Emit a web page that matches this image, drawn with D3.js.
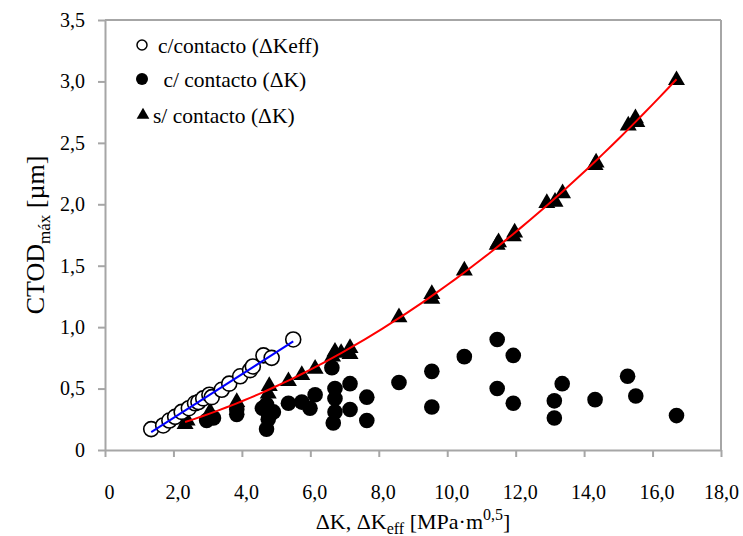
<!DOCTYPE html>
<html>
<head>
<meta charset="utf-8">
<script src="https://cdn.jsdelivr.net/npm/d3@7"></script>
<style>
  body { margin: 0; background: #fff; }
  svg text { font-family: "Liberation Serif", "Times New Roman", serif; }
</style>
</head>
<body>
<div id="chart"></div>
<script>
// c/contacto (ΔKeff) - open circles
const keffX = [1.35, 1.70, 1.88, 2.05, 2.24, 2.45, 2.63, 2.73, 2.87, 3.05, 3.12, 3.41, 3.63, 3.95, 4.24, 4.32, 4.63, 4.87, 5.50];
const keffY = [0.17, 0.20, 0.24, 0.27, 0.31, 0.34, 0.38, 0.39, 0.42, 0.45, 0.43, 0.49, 0.54, 0.60, 0.65, 0.68, 0.77, 0.75, 0.90];

// c/ contacto (ΔK) - filled circles
const comX = [2.97, 3.17, 3.85, 3.85, 4.60, 4.72, 4.77, 4.77, 4.72, 4.92, 5.36, 5.75, 5.99, 6.14, 6.63, 6.72, 6.72, 6.72, 6.67, 7.16, 7.16, 7.65, 7.65, 8.59, 9.55, 9.55, 10.50, 11.46, 11.93, 11.46, 11.93, 13.13, 13.13, 13.36, 14.32, 15.27, 15.51, 16.70];
const comY = [0.24, 0.26, 0.29, 0.33, 0.34, 0.37, 0.30, 0.25, 0.17, 0.31, 0.38, 0.39, 0.34, 0.45, 0.67, 0.50, 0.42, 0.31, 0.22, 0.54, 0.33, 0.43, 0.24, 0.55, 0.64, 0.35, 0.76, 0.90, 0.77, 0.50, 0.38, 0.40, 0.26, 0.54, 0.41, 0.60, 0.44, 0.28];

// s/ contacto (ΔK) - triangles
const semX = [2.34, 2.40, 3.07, 3.85, 4.77, 4.80, 5.36, 5.75, 6.14, 6.65, 6.72, 6.90, 7.16, 7.16, 8.59, 9.55, 9.55, 10.50, 11.46, 11.50, 11.93, 11.97, 12.91, 13.15, 13.37, 14.32, 14.35, 15.29, 15.54, 15.50, 16.70];
const semY = [0.21, 0.24, 0.31, 0.39, 0.46, 0.52, 0.56, 0.61, 0.66, 0.76, 0.80, 0.79, 0.78, 0.83, 1.08, 1.23, 1.27, 1.46, 1.67, 1.69, 1.74, 1.77, 2.01, 2.02, 2.09, 2.32, 2.34, 2.64, 2.67, 2.70, 3.01];

const xTicks = [0, 2, 4, 6, 8, 10, 12, 14, 16, 18];
const yTicks = [0, 0.5, 1, 1.5, 2, 2.5, 3, 3.5];

const legendLabels = ["c/contacto (\u0394Keff)", " c/ contacto (\u0394K)", "s/ contacto (\u0394K)"];

const W = 743, H = 536;
const margin = {left: 105, right: 22, top: 20, bottom: 86};
const axisColor = "#a6a6a6";
const serif = "Liberation Serif, Times New Roman, serif";

const svg = d3.select("#chart").append("svg")
    .attr("width", W)
    .attr("height", H)
    .attr("font-family", serif);

const x = d3.scaleLinear().domain([0, 18]).range([margin.left, W - margin.right]);
const y = d3.scaleLinear().domain([0, 3.5]).range([H - margin.bottom, margin.top]);

const fmt = v => v === 0 ? "0" : d3.format(".1f")(v).replace(".", ",");

// frame (top + right)
svg.append("line")
    .attr("x1", x(0)).attr("x2", x(18)).attr("y1", y(3.5)).attr("y2", y(3.5))
    .attr("stroke", axisColor).attr("stroke-width", 2);
svg.append("line")
    .attr("x1", x(18)).attr("x2", x(18)).attr("y1", y(3.5)).attr("y2", y(0))
    .attr("stroke", axisColor).attr("stroke-width", 2);

const xAxis = svg.append("g")
    .attr("transform", `translate(0,${y(0)})`)
    .call(d3.axisBottom(x).tickValues(xTicks).tickFormat(fmt).tickSize(7).tickSizeOuter(0).tickPadding(28));
const yAxis = svg.append("g")
    .attr("transform", `translate(${x(0)},0)`)
    .call(d3.axisLeft(y).tickValues(yTicks).tickFormat(fmt).tickSize(7).tickSizeOuter(0).tickPadding(13));

[xAxis, yAxis].forEach(a => {
    a.attr("font-family", serif).attr("font-size", 20);
    a.select(".domain").attr("stroke", axisColor).attr("stroke-width", 2);
    a.selectAll(".tick line").attr("stroke", axisColor).attr("stroke-width", 2);
    a.selectAll(".tick text").attr("fill", "#000");
});
// small nudge like the original (labels sit a bit right of their ticks)
xAxis.selectAll(".tick text").attr("dx", d => d === 18 ? 0 : 4);

// filled circles
const comData = comX.map((d, i) => ({x: d, y: comY[i]}));
svg.append("g").selectAll("circle").data(comData).join("circle")
    .attr("cx", d => x(d.x)).attr("cy", d => y(d.y))
    .attr("r", 7.8).attr("fill", "#000");

// triangles
const semData = semX.map((d, i) => ({x: d, y: semY[i]}));
const tri = d3.symbol().type(d3.symbolTriangle).size(125);
svg.append("g").selectAll("path").data(semData).join("path")
    .attr("d", tri)
    .attr("transform", d => `translate(${x(d.x)},${y(d.y)})`)
    .attr("fill", "#000");

// open circles
const keffData = keffX.map((d, i) => ({x: d, y: keffY[i]}));
svg.append("g").selectAll("circle").data(keffData).join("circle")
    .attr("cx", d => x(d.x)).attr("cy", d => y(d.y))
    .attr("r", 7.5).attr("fill", "#fff").attr("stroke", "#000").attr("stroke-width", 1.6);

// trend lines (least squares from the data)
function polyFit(xs, ys, deg) {
    const n = deg + 1;
    const A = Array.from({length: n}, () => new Array(n + 1).fill(0));
    xs.forEach((xv, k) => {
        for (let i = 0; i < n; i++) {
            for (let j = 0; j < n; j++) A[i][j] += Math.pow(xv, i + j);
            A[i][n] += ys[k] * Math.pow(xv, i);
        }
    });
    for (let i = 0; i < n; i++) {
        let p = i;
        for (let r = i + 1; r < n; r++) if (Math.abs(A[r][i]) > Math.abs(A[p][i])) p = r;
        [A[i], A[p]] = [A[p], A[i]];
        for (let r = 0; r < n; r++) {
            if (r === i) continue;
            const f = A[r][i] / A[i][i];
            for (let c = i; c <= n; c++) A[r][c] -= f * A[i][c];
        }
    }
    return A.map((row, i) => row[n] / row[i]);
}
const evalPoly = (c, v) => c.reduce((s, ci, i) => s + ci * Math.pow(v, i), 0);

const line = d3.line().x(d => x(d[0])).y(d => y(d[1]));

const redC = polyFit(semX, semY, 2);
const [sx0, sx1] = d3.extent(semX);
const redPts = d3.range(0, 61).map(i => {
    const v = sx0 + (sx1 - sx0) * i / 60;
    return [v, evalPoly(redC, v)];
});
svg.append("path").attr("d", line(redPts))
    .attr("fill", "none").attr("stroke", "#ff0000").attr("stroke-width", 2);

const blueC = polyFit(keffX, keffY, 1);
const [bx0, bx1] = d3.extent(keffX);
svg.append("path").attr("d", line([[bx0, evalPoly(blueC, bx0)], [bx1, evalPoly(blueC, bx1)]]))
    .attr("fill", "none").attr("stroke", "#0000ff").attr("stroke-width", 2);

// legend
const leg = svg.append("g").attr("font-size", 21.5);
const rowsY = [45, 79, 115];
leg.append("circle").attr("cx", 142).attr("cy", rowsY[0]).attr("r", 5)
    .attr("fill", "#fff").attr("stroke", "#000").attr("stroke-width", 1.5);
leg.append("circle").attr("cx", 142).attr("cy", rowsY[1]).attr("r", 6).attr("fill", "#000");
leg.append("path").attr("d", d3.symbol().type(d3.symbolTriangle).size(70))
    .attr("transform", `translate(143,${rowsY[2]})`).attr("fill", "#000");
leg.selectAll("text").data(legendLabels).join("text")
    .attr("x", (d, i) => i === 2 ? 153 : 158)
    .attr("y", (d, i) => rowsY[i])
    .attr("dy", "0.35em")
    .attr("xml:space", "preserve")
    .style("white-space", "pre")
    .text(d => d);

// axis titles
const xt = svg.append("text")
    .attr("x", (x(0) + x(18)) / 2)
    .attr("y", 529)
    .attr("text-anchor", "middle")
    .attr("font-size", 22);
xt.append("tspan").text("\u0394K, \u0394K");
xt.append("tspan").attr("dy", 5).attr("font-size", 16).text("eff");
xt.append("tspan").attr("dy", -5).text(" [MPa\u00b7m");
xt.append("tspan").attr("dy", -9).attr("font-size", 16).text("0,5");
xt.append("tspan").attr("dy", 9).text("]");

const yt = svg.append("text")
    .attr("transform", `translate(44,${(y(0) + y(3.5)) / 2}) rotate(-90)`)
    .attr("text-anchor", "middle")
    .attr("font-size", 26);
yt.append("tspan").text("CTOD");
yt.append("tspan").attr("dy", 6).attr("font-size", 17).text("máx");
yt.append("tspan").attr("dy", -6).text(" [µm]");
</script>
</body>
</html>
